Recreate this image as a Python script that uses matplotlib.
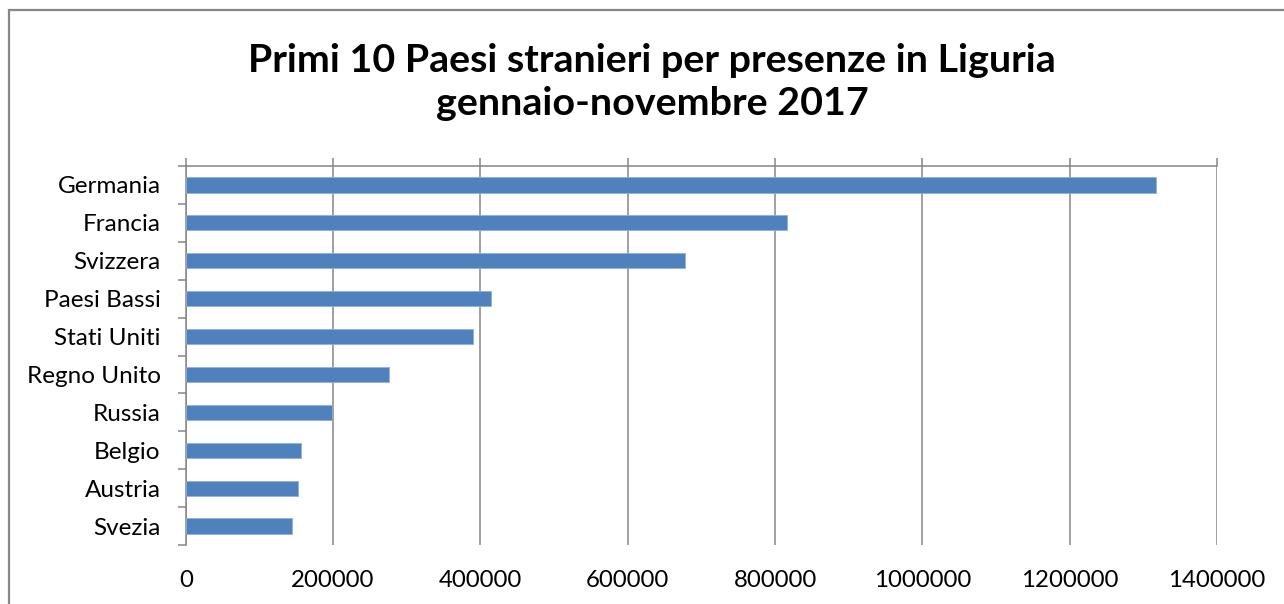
import matplotlib
matplotlib.use("Agg")
import matplotlib.pyplot as plt
from matplotlib.patches import Rectangle
import numpy as np

plt.rcParams['font.family'] = ['Lato', 'DejaVu Sans']

countries = ["Germania", "Francia", "Svizzera", "Paesi Bassi", "Stati Uniti",
             "Regno Unito", "Russia", "Belgio", "Austria", "Svezia"]
presenze = [1317700, 816700, 678400, 413900, 389900,
            275800, 198800, 157100, 152200, 144000]
xticks = [0, 200000, 400000, 600000, 800000, 1000000, 1200000, 1400000]
title = "Primi 10 Paesi stranieri per presenze in Liguria\ngennaio-novembre 2017"

W, H = 1284, 604
fig = plt.figure(figsize=(W / 100, H / 100), dpi=100)
ax = fig.add_axes([185.7 / W, 1 - 545 / H, (1217 - 185.7) / W, (545 - 166) / H])

grid_c = "#868686"
y = np.arange(len(countries))
ax.barh(y, presenze, height=0.4, color="#4F81BD", edgecolor="#8FB0DA",
        linewidth=0.6, zorder=3)
ax.set_ylim(len(countries) - 0.5, -0.5)
ax.set_xlim(0, 1400000)
ax.set_xticks(xticks)
ax.set_xticklabels([str(v) for v in xticks])
ax.set_yticks(y)
ax.set_yticklabels(countries)
ax.set_yticks(np.arange(len(countries) + 1) - 0.5, minor=True)

ax.grid(axis="x", color=grid_c, linewidth=1.1, zorder=0)
ax.set_axisbelow(True)
for s in ["right", "bottom"]:
    ax.spines[s].set_visible(False)
for s in ["top", "left"]:
    ax.spines[s].set_color(grid_c)
    ax.spines[s].set_linewidth(1.1)

ax.tick_params(axis="x", top=True, bottom=False, labeltop=False, labelbottom=True,
               direction="out", length=6, width=1.1, color=grid_c,
               labelsize=17.3, pad=12)
ax.tick_params(axis="y", which="major", length=0, labelsize=17.5, pad=18)
ax.tick_params(axis="y", which="minor", length=6, width=1.1, color=grid_c,
               direction="out")

fig.text(652 / W, 1 - 82 / H, title, ha="center", va="center",
         fontsize=28.4, fontweight="bold", linespacing=1.27)

fig.patches.append(Rectangle((9 / W, -0.05), 1.2, 1 - 9.5 / H + 0.05,
                             transform=fig.transFigure, fill=False,
                             edgecolor=grid_c, linewidth=1.6))

fig.savefig("out.png", dpi=100)
